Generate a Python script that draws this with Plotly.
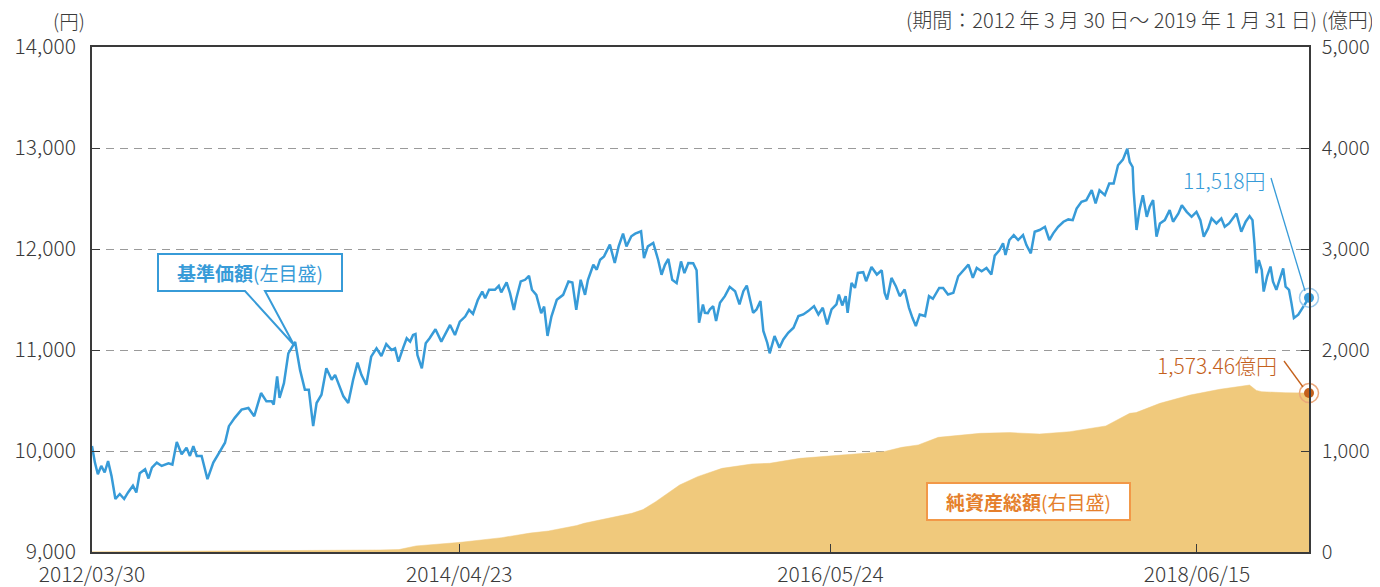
import plotly.graph_objects as go

# ---------------- data ----------------
nav_dates = [
    "2012-03-30", "2012-04-05", "2012-04-11", "2012-04-18", "2012-04-25", "2012-05-02", "2012-05-09",
    "2012-05-17", "2012-05-26", "2012-06-04", "2012-06-12", "2012-06-22", "2012-06-29", "2012-07-06",
    "2012-07-17", "2012-07-24", "2012-07-31", "2012-08-10", "2012-08-20", "2012-09-03", "2012-09-11",
    "2012-09-20", "2012-09-30", "2012-10-10", "2012-10-17", "2012-10-24", "2012-10-31", "2012-11-10",
    "2012-11-22", "2012-12-04", "2012-12-14", "2012-12-28",
    "2013-01-05", "2013-01-17", "2013-01-31", "2013-02-14", "2013-02-26", "2013-03-12", "2013-03-23",
    "2013-04-03", "2013-04-07", "2013-04-14", "2013-04-19", "2013-04-28", "2013-05-07", "2013-05-21",
    "2013-05-31", "2013-06-10", "2013-06-18", "2013-06-27", "2013-07-04", "2013-07-14", "2013-07-24",
    "2013-08-04", "2013-08-11", "2013-08-18", "2013-08-28", "2013-09-07", "2013-09-17", "2013-09-26",
    "2013-10-04", "2013-10-14", "2013-10-24", "2013-11-04", "2013-11-14", "2013-11-24", "2013-12-05",
    "2013-12-12", "2013-12-19", "2013-12-29",
    "2014-01-05", "2014-01-12", "2014-01-18", "2014-01-23", "2014-01-27", "2014-02-05", "2014-02-13",
    "2014-02-21", "2014-03-05", "2014-03-17", "2014-03-24", "2014-04-04", "2014-04-14", "2014-04-24",
    "2014-05-05", "2014-05-13", "2014-05-21", "2014-05-31", "2014-06-09", "2014-06-15", "2014-06-23",
    "2014-07-05", "2014-07-13", "2014-07-18", "2014-07-29", "2014-08-05", "2014-08-13", "2014-08-18",
    "2014-08-27", "2014-09-05", "2014-09-13", "2014-09-19", "2014-09-28", "2014-10-08", "2014-10-14",
    "2014-10-21", "2014-10-29", "2014-11-09", "2014-11-22", "2014-12-03", "2014-12-11", "2014-12-19",
    "2014-12-28",
    "2015-01-06", "2015-01-12", "2015-01-23", "2015-01-30", "2015-02-06", "2015-02-14", "2015-02-26",
    "2015-03-08", "2015-03-16", "2015-03-25", "2015-04-01", "2015-04-11", "2015-04-19", "2015-05-01",
    "2015-05-07", "2015-05-15", "2015-05-26", "2015-06-05", "2015-06-12", "2015-06-19", "2015-06-26",
    "2015-07-04", "2015-07-13", "2015-07-22", "2015-07-29", "2015-08-06", "2015-08-16", "2015-08-23",
    "2015-08-28", "2015-09-05", "2015-09-09", "2015-09-15", "2015-09-19", "2015-09-26", "2015-10-02",
    "2015-10-10", "2015-10-20", "2015-10-30", "2015-11-10", "2015-11-19", "2015-11-27", "2015-12-04",
    "2015-12-10", "2015-12-17", "2015-12-24",
    "2016-01-01", "2016-01-07", "2016-01-15", "2016-01-20", "2016-01-30", "2016-02-09", "2016-02-17",
    "2016-02-27", "2016-03-09", "2016-03-19", "2016-03-29", "2016-04-08", "2016-04-20", "2016-04-29",
    "2016-05-08", "2016-05-17", "2016-05-26", "2016-06-05", "2016-06-10", "2016-06-17", "2016-06-24",
    "2016-06-28", "2016-07-06", "2016-07-13", "2016-07-19", "2016-07-30", "2016-08-05", "2016-08-16",
    "2016-08-27", "2016-09-06", "2016-09-12", "2016-09-17", "2016-09-26", "2016-10-05", "2016-10-13",
    "2016-10-23", "2016-11-01", "2016-11-08", "2016-11-15", "2016-11-23", "2016-12-04", "2016-12-12",
    "2016-12-20",
    "2017-01-02", "2017-01-10", "2017-01-20", "2017-01-31", "2017-02-10", "2017-02-20", "2017-03-03",
    "2017-03-12", "2017-03-20", "2017-03-30", "2017-04-09", "2017-04-19", "2017-04-26", "2017-05-05",
    "2017-05-13", "2017-05-18", "2017-05-26", "2017-06-04", "2017-06-13", "2017-06-23", "2017-06-30",
    "2017-07-09", "2017-07-17", "2017-07-27", "2017-08-07", "2017-08-16", "2017-08-24", "2017-09-03",
    "2017-09-14", "2017-09-24", "2017-10-03", "2017-10-11", "2017-10-21", "2017-10-31", "2017-11-11",
    "2017-11-19", "2017-11-27", "2017-12-08", "2017-12-17", "2017-12-26",
    "2018-01-04", "2018-01-14", "2018-01-23", "2018-01-28", "2018-02-03", "2018-02-05", "2018-02-11",
    "2018-02-17", "2018-02-24", "2018-03-04", "2018-03-10", "2018-03-17", "2018-03-24", "2018-03-31",
    "2018-04-10", "2018-04-20", "2018-04-27", "2018-05-08", "2018-05-15", "2018-05-25", "2018-06-04",
    "2018-06-14", "2018-06-22", "2018-06-29", "2018-07-08", "2018-07-15", "2018-07-25", "2018-08-04",
    "2018-08-11", "2018-08-20", "2018-08-27", "2018-09-04", "2018-09-14", "2018-09-23", "2018-10-01",
    "2018-10-07", "2018-10-11", "2018-10-15", "2018-10-20", "2018-10-26", "2018-10-30", "2018-11-06",
    "2018-11-13", "2018-11-18", "2018-11-25", "2018-12-02", "2018-12-09", "2018-12-14", "2018-12-21",
    "2018-12-26", "2018-12-31",
    "2019-01-09", "2019-01-19", "2019-01-31",
]
nav_values = [
    10050, 9885, 9770, 9852, 9787, 9900, 9754,
    9525, 9574, 9525, 9590, 9656, 9590, 9780,
    9820, 9728, 9836, 9885, 9852, 9879, 9866,
    10089, 9967, 10033, 9951, 10049, 9951, 9951,
    9721, 9885, 9967, 10082,
    10246, 10328, 10410, 10426, 10344, 10574, 10492,
    10492, 10459, 10738, 10525, 10672, 10967, 11080,
    10803, 10607, 10607, 10246, 10475, 10557, 10820,
    10705, 10754, 10672, 10541, 10475, 10705, 10875,
    10754, 10656, 10934, 11016, 10941, 11059, 11000,
    11017, 10884, 11026,
    11116, 11083, 11149, 11159, 10950, 10818, 11066,
    11116, 11205, 11083, 11149, 11248, 11149, 11281,
    11331, 11397, 11358, 11497, 11579, 11513, 11596,
    11596, 11636, 11570, 11669, 11563, 11397, 11513,
    11679, 11695, 11735, 11596, 11546, 11364, 11430,
    11139, 11331, 11497, 11546, 11679, 11669, 11397,
    11695,
    11546, 11695, 11844, 11795, 11894, 11927, 12043,
    11861, 12026, 12152, 12026, 12126, 12152, 12175,
    11911, 12026, 12060, 11894, 11745, 11844, 11901,
    11695, 11662, 11877, 11762, 11861, 11860, 11790,
    11270, 11450, 11368, 11364, 11401, 11434, 11286,
    11467, 11533, 11625, 11582, 11451, 11582, 11638,
    11500, 11368, 11401,
    11484, 11188, 11072, 10967, 11138, 11023, 11105,
    11171, 11220, 11336, 11352, 11385, 11434, 11352,
    11418, 11253, 11401, 11451, 11549, 11441, 11533,
    11368, 11664, 11615, 11763, 11770, 11681, 11822,
    11747, 11789, 11566, 11500, 11714, 11632, 11533,
    11599, 11418, 11319, 11237, 11352, 11336, 11533,
    11507,
    11615, 11615, 11549, 11566, 11730, 11780, 11845,
    11714, 11812, 11780, 11812, 11747, 11935, 11985,
    12056, 11941, 12089, 12138, 12089, 12138, 12039,
    11957, 12171, 12188, 12220, 12089, 12155, 12220,
    12270, 12293, 12286, 12401, 12467, 12484, 12582,
    12451, 12582, 12533, 12648, 12648,
    12829, 12885, 12993, 12862, 12812, 12582, 12188,
    12385, 12533, 12319, 12418, 12484, 12122, 12253,
    12286, 12385, 12270, 12352, 12434, 12368, 12319,
    12368, 12286, 12122, 12204, 12303, 12253, 12303,
    12220, 12253, 12303, 12352, 12171, 12270, 12326,
    12286, 12056, 11760, 11891, 11793, 11579, 11727,
    11826, 11678, 11595, 11711, 11809, 11628, 11595,
    11464, 11316,
    11349, 11431, 11518,
]

net_dates = [
    "2012-03-30", "2012-09-01", "2013-03-01", "2013-08-01", "2013-11-11", "2013-12-20",
    "2014-01-05", "2014-01-24", "2014-04-26", "2014-07-19", "2014-09-15", "2014-10-23",
    "2014-12-20", "2015-01-04", "2015-04-12", "2015-05-05", "2015-05-31", "2015-07-19",
    "2015-08-25", "2015-10-14", "2015-12-14", "2016-01-20", "2016-03-22", "2016-05-23",
    "2016-09-10", "2016-10-17", "2016-11-20", "2016-12-31", "2017-03-27", "2017-05-27",
    "2017-07-27", "2017-09-27", "2017-12-10", "2018-01-28", "2018-02-10", "2018-03-31",
    "2018-06-01", "2018-08-01", "2018-10-01", "2018-10-15", "2018-10-26", "2018-12-14",
    "2019-01-31",
]
net_values = [
    2, 5, 8, 12, 20, 24,
    40, 60, 96, 142, 187, 208,
    262, 284, 383, 420, 498, 663,
    746, 828, 871, 878, 927, 950,
    993, 1036, 1060, 1135, 1175, 1182,
    1168, 1191, 1248, 1373, 1380, 1472,
    1554, 1611, 1653, 1600, 1587, 1577,
    1573.46,
]

x_tick_dates = ["2012-03-30", "2014-04-23", "2016-05-24", "2018-06-15"]
x_tick_text = ["2012/03/30", "2014/04/23", "2016/05/24", "2018/06/15"]
left_ticks = [9000, 10000, 11000, 12000, 13000, 14000]
right_ticks = [0, 1000, 2000, 3000, 4000, 5000]

last_nav_label = "11,518円"
last_net_label = "1,573.46億円"

# ---------------- styles ----------------
FONT = "Noto Sans CJK JP"
BLUE = "#379bd8"
AREA = "#f0c97c"
ORANGE_TXT = "#e57f2c"
ORANGE_BORDER = "#f29848"
BROWN = "#c4611c"
AX = "#3a3a3a"
TICKFONT = dict(family=FONT, size=21, color=AX, weight=300)
RTICKFONT = dict(family=FONT, size=20, color=AX, weight=300)

# the page body adds an 8px offset; the figure is sized so the plot box lands
# at x 92..1309, y 47..552 of the window
PAGE_OFFSET = 8


def px(xp):
    return (xp - 92) / 1217


def py(yp):
    return (552 - yp) / 505


fig = go.Figure()

fig.add_trace(go.Scatter(
    x=net_dates, y=net_values, yaxis="y", mode="lines",
    line=dict(color=AREA, width=0.5), fill="tozeroy", fillcolor=AREA,
    hoverinfo="skip", showlegend=False,
))
fig.add_trace(go.Scatter(
    x=[net_dates[-1]], y=[net_values[-1]], yaxis="y", mode="markers",
    marker=dict(symbol="circle-open", size=19, color="#eba77a", line=dict(width=1.5, color="#eba77a")),
    cliponaxis=False, showlegend=False, hoverinfo="skip",
))
fig.add_trace(go.Scatter(
    x=[net_dates[-1]], y=[net_values[-1]], yaxis="y", mode="markers",
    marker=dict(size=10, color=BROWN), cliponaxis=False, showlegend=False, hoverinfo="skip",
))

fig.add_trace(go.Scatter(
    x=nav_dates, y=nav_values, yaxis="y2", mode="lines",
    line=dict(color=BLUE, width=2.5), hoverinfo="skip", showlegend=False,
))
fig.add_trace(go.Scatter(
    x=[nav_dates[-1]], y=[nav_values[-1]], yaxis="y2", mode="markers",
    marker=dict(symbol="circle-open", size=19, color="#9ccbee", line=dict(width=1.5, color="#9ccbee")),
    cliponaxis=False, showlegend=False, hoverinfo="skip",
))
fig.add_trace(go.Scatter(
    x=[nav_dates[-1]], y=[nav_values[-1]], yaxis="y2", mode="markers",
    marker=dict(size=10, color=BLUE), cliponaxis=False, showlegend=False, hoverinfo="skip",
))

shapes = [
    # blue callout (box + pointer)
    dict(type="path", xref="paper", yref="paper",
         path=(f"M {px(158)} {py(254)} L {px(342)} {py(254)} L {px(342)} {py(291)} "
               f"L {px(265)} {py(291)} L {px(294)} {py(345)} L {px(245)} {py(291)} "
               f"L {px(158)} {py(291)} Z"),
         fillcolor="white", line=dict(color=BLUE, width=2), layer="above"),
    # orange callout box
    dict(type="rect", xref="paper", yref="paper",
         x0=px(927), x1=px(1130), y0=py(520), y1=py(483),
         fillcolor="white", line=dict(color=ORANGE_BORDER, width=2), layer="above"),
    # leader lines
    dict(type="line", xref="paper", yref="paper",
         x0=px(1271), y0=py(178), x1=px(1305), y1=py(291),
         line=dict(color=BLUE, width=1.3), layer="above"),
    dict(type="line", xref="paper", yref="paper",
         x0=px(1284), y0=py(361), x1=px(1303), y1=py(387),
         line=dict(color=BROWN, width=1.3), layer="above"),
]

annotations = [
    dict(xref="paper", yref="paper", x=px(250), y=py(272), xanchor="center", yanchor="middle",
         text="<b>基準価額</b>(左目盛)", showarrow=False,
         font=dict(family=FONT, size=19, color=BLUE)),
    dict(xref="paper", yref="paper", x=px(1028.5), y=py(501), xanchor="center", yanchor="middle",
         text="<b>純資産総額</b>(右目盛)", showarrow=False,
         font=dict(family=FONT, size=19, color=ORANGE_TXT)),
    dict(xref="paper", yref="paper", x=px(1267), y=py(180), xanchor="right", yanchor="middle",
         text=last_nav_label, showarrow=False,
         font=dict(family=FONT, size=21, color=BLUE, weight=300)),
    dict(xref="paper", yref="paper", x=px(1279), y=py(365), xanchor="right", yanchor="middle",
         text=last_net_label, showarrow=False,
         font=dict(family=FONT, size=21, color=BROWN, weight=300)),
    dict(xref="paper", yref="paper", x=px(86), y=py(20.5), xanchor="right", yanchor="middle",
         text="(円)", showarrow=False, borderpad=0,
         font=dict(family=FONT, size=19.5, color=AX, weight=300)),
    dict(xref="paper", yref="paper", x=px(1375), y=py(20), xanchor="right", yanchor="middle",
         text="(期間：2012 年 3 月 30 日～ 2019 年 1 月 31 日) (億円)", showarrow=False, borderpad=0,
         font=dict(family=FONT, size=20, color=AX, weight=300)),
]

fig.update_layout(
    width=1380 - PAGE_OFFSET, height=587 - PAGE_OFFSET,
    margin=dict(l=92 - PAGE_OFFSET, r=71, t=47 - PAGE_OFFSET, b=35, pad=0),
    paper_bgcolor="white", plot_bgcolor="white",
    font=dict(family=FONT, color=AX),
    showlegend=False,
    xaxis=dict(
        type="date", range=["2012-03-30", "2019-01-31"], automargin=False,
        tickmode="array", tickvals=x_tick_dates, ticktext=x_tick_text,
        ticks="inside", ticklen=8, tickwidth=1.3, tickcolor=AX,
        showline=True, linecolor=AX, linewidth=1.6, mirror=True,
        showgrid=False, zeroline=False,
        tickfont=TICKFONT, ticklabelstandoff=3,
    ),
    yaxis=dict(
        range=[0, 5000], side="right", anchor="x", automargin=False,
        tickmode="array", tickvals=right_ticks,
        ticktext=[f"{v:,}" for v in right_ticks],
        ticks="inside", ticklen=8, tickwidth=1.3, tickcolor=AX,
        showline=True, linecolor=AX, linewidth=1.6,
        showgrid=False, zeroline=False,
        tickfont=RTICKFONT, ticklabelstandoff=7,
    ),
    yaxis2=dict(
        range=[9000, 14000], side="left", overlaying="y", anchor="x", automargin=False,
        tickmode="array", tickvals=left_ticks,
        ticktext=[f"{v:,}" for v in left_ticks],
        ticks="inside", ticklen=8, tickwidth=1.3, tickcolor=AX,
        showline=True, linecolor=AX, linewidth=1.6,
        showgrid=True, gridcolor="#9a9a9a", gridwidth=1.2, griddash="8px,6px",
        zeroline=False,
        tickfont=TICKFONT, ticklabelstandoff=10,
    ),
    shapes=shapes,
    annotations=annotations,
)

fig.write_html("out.html")
